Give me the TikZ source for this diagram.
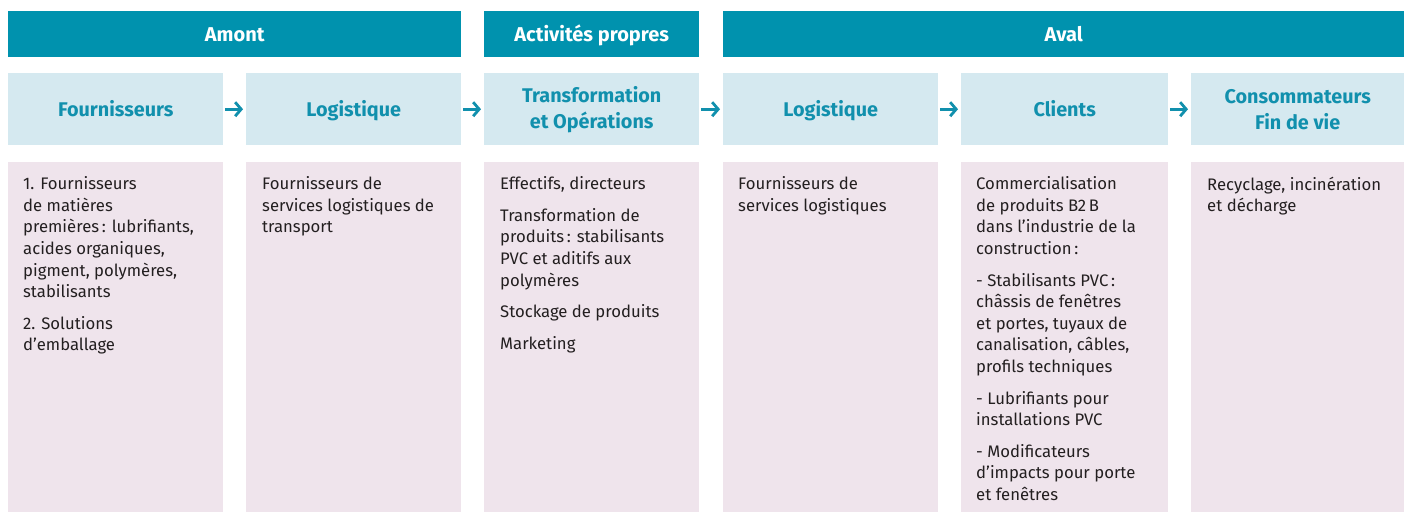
\documentclass[tikz,border=0pt]{standalone}
\usepackage{fontspec}
\setmainfont{Fira Sans}
\usetikzlibrary{arrows.meta}
\definecolor{hdrteal}{HTML}{0092AE}
\definecolor{subblue}{HTML}{D5E9F0}
\definecolor{bodypink}{HTML}{EFE4EC}
\definecolor{subtext}{HTML}{1190AD}
\definecolor{bodytext}{HTML}{231F20}
\tikzset{
  hdr/.style={fill=hdrteal, text=white, inner sep=0, anchor=north west, minimum height=46,
    font=\fontsize{20}{24}\selectfont\bfseries, align=center, text height=14.5, text depth=0},
  sub/.style={fill=subblue, text=subtext, inner sep=0, anchor=north west, minimum height=72,
    font=\fontsize{19.8}{26}\selectfont\bfseries, align=center},
  subone/.style={sub, text height=14, text depth=0},
  bodybox/.style={fill=bodypink, draw=none},
  bodytxt/.style={text=bodytext, inner sep=0, anchor=north west, align=left,
    font=\fontsize{16.7}{21.6}\selectfont},
  flow/.style={draw=subtext, line width=2.8pt, -{Straight Barb[length=6pt,width=14pt]},
    shorten <=2pt, shorten >=3pt},
}
\begin{document}
\begin{tikzpicture}[x=1pt,y=-1pt]
\useasboundingbox (0,0) rectangle (1405,512);
% headers
\node[hdr, minimum width=453] (amont) at (8,11) {Amont};
\node[hdr, minimum width=215] (act) at (484,11) {Activités propres};
\node[hdr, minimum width=681] (aval) at (723,11) {Aval};
% sub headers
\node[subone, minimum width=215] (s1) at (8,73) {Fournisseurs};
\node[subone, minimum width=215] (s2) at (246,73) {Logistique};
\node[sub, minimum width=215] (s3) at (484,73) {Transformation\\et Opérations};
\node[subone, minimum width=215] (s4) at (723,73) {Logistique};
\node[subone, minimum width=207] (s5) at (961,73) {Clients};
\node[sub, minimum width=213] (s6) at (1191,73) {Consommateurs\\Fin de vie};
% arrows
\draw[flow] (s1.east) -- (s2.west);
\draw[flow] (s2.east) -- (s3.west);
\draw[flow] (s3.east) -- (s4.west);
\draw[flow] (s4.east) -- (s5.west);
\draw[flow] (s5.east) -- (s6.west);
% body boxes
\fill[bodybox] (8,162) rectangle (223,512);
\fill[bodybox] (246,162) rectangle (461,512);
\fill[bodybox] (484,162) rectangle (699,512);
\fill[bodybox] (723,162) rectangle (938,512);
\fill[bodybox] (961,162) rectangle (1168,512);
\fill[bodybox] (1191,162) rectangle (1404,512);
% body texts
\node[bodytxt] (b1) at (23,176.5) {1. Fournisseurs\\de matières\\premières\,: lubrifiants,\\acides organiques,\\pigment, polymères,\\stabilisants\\[10pt]2. Solutions\\d’emballage};
\node[bodytxt] (b2) at (262,176.5) {Fournisseurs de\\services logistiques de\\transport};
\node[bodytxt] (b3) at (500,176.5) {Effectifs, directeurs\\[10pt]Transformation de\\produits\,: stabilisants\\PVC et aditifs aux\\polymères\\[10pt]Stockage de produits\\[10pt]Marketing};
\node[bodytxt] (b4) at (738,176.5) {Fournisseurs de\\services logistiques};
\node[bodytxt] (b5) at (976,176.5) {Commercialisation\\de produits B2\,B\\dans l’industrie de la\\construction\,:\\[10pt]- Stabilisants PVC\,:\\châssis de fenêtres\\et portes, tuyaux de\\canalisation, câbles,\\profils techniques\\[10pt]- Lubrifiants pour\\installations PVC\\[10pt]- Modificateurs\\d’impacts pour porte\\et fenêtres};
\node[bodytxt] (b6) at (1207,176.5) {Recyclage, incinération\\et décharge};
\end{tikzpicture}
\end{document}
